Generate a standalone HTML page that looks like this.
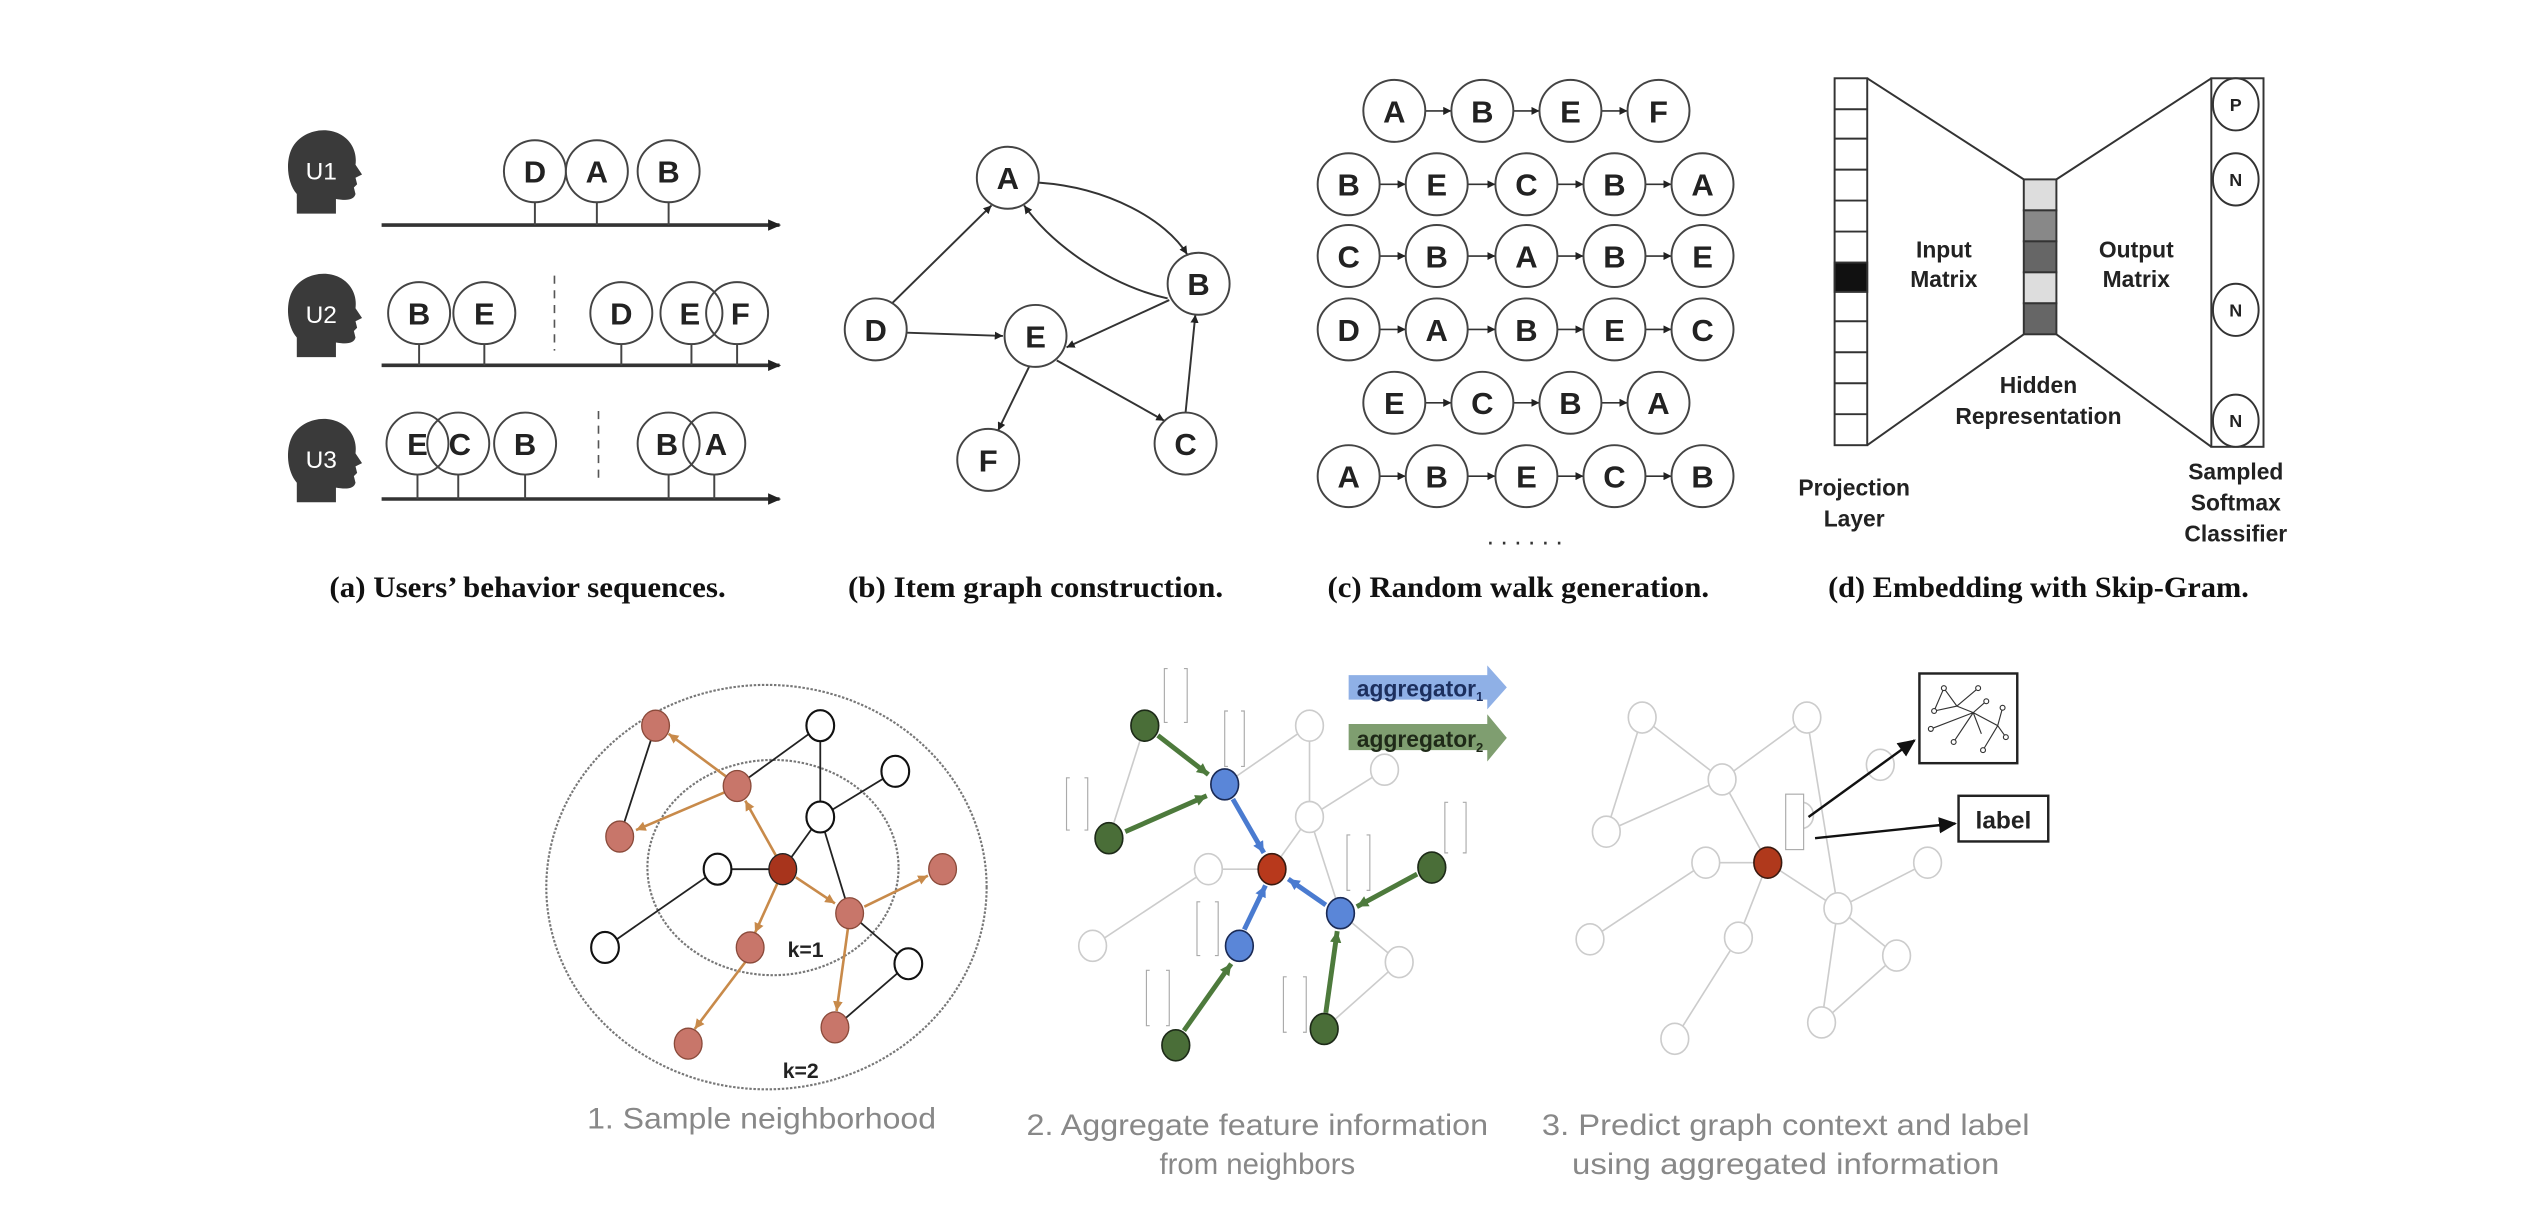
<!DOCTYPE html>
<html><head><meta charset="utf-8"><style>html,body{margin:0;padding:0;background:#fff}svg{display:block}</style></head>
<body>
<svg width="2544" height="1210" viewBox="0 0 1560 742" preserveAspectRatio="none" xmlns="http://www.w3.org/2000/svg" font-family="Liberation Sans, sans-serif">
<defs>
<marker id="ah" markerWidth="8" markerHeight="8" refX="7" refY="4" orient="auto" markerUnits="userSpaceOnUse"><path d="M0,0.5 L8,4 L0,7.5z" fill="#222"/></marker>
<marker id="ahs" markerWidth="5" markerHeight="5" refX="5" refY="2.5" orient="auto" markerUnits="userSpaceOnUse"><path d="M0,0 L5,2.5 L0,5z" fill="#222"/></marker>
<marker id="ao" markerWidth="6" markerHeight="6" refX="6" refY="3" orient="auto" markerUnits="userSpaceOnUse"><path d="M0,0 L6,3 L0,6z" fill="#c88a4a"/></marker>
<marker id="ab" markerWidth="7" markerHeight="7" refX="7" refY="3.5" orient="auto" markerUnits="userSpaceOnUse"><path d="M0,0 L7,3.5 L0,7z" fill="#4a7bd0"/></marker>
<marker id="ag" markerWidth="7" markerHeight="7" refX="7" refY="3.5" orient="auto" markerUnits="userSpaceOnUse"><path d="M0,0 L7,3.5 L0,7z" fill="#4d7a3c"/></marker>
<marker id="ak" markerWidth="11" markerHeight="10" refX="10" refY="5" orient="auto" markerUnits="userSpaceOnUse"><path d="M0,0 L11,5 L0,10z" fill="#111"/></marker>
<path id="head" d="M6,52 L6,40 C0,33 -1,20 3,12 C8,2 22,-2 32,3 C40,7 43,15 42,22 L46,28 L42,30 L43,34 L41,36 L42,40 C41,44 36,44 30,43 L30,52 Z"/>
</defs>

<!-- Panel a -->
<g fill="#3a3a3a">
<use href="#head" x="176" y="79"/>
<use href="#head" x="176" y="167"/>
<use href="#head" x="176" y="256"/>
</g>
<g fill="#fff" font-size="15" text-anchor="middle">
<text x="197" y="110">U1</text><text x="197" y="198">U2</text><text x="197" y="287">U3</text>
</g>
<g stroke="#333" stroke-width="2.2" marker-end="url(#ah)">
<line x1="234" y1="138" x2="478" y2="138"/>
<line x1="234" y1="224" x2="478" y2="224"/>
<line x1="234" y1="306" x2="478" y2="306"/>
</g>
<g stroke="#555" stroke-width="1" stroke-dasharray="5,4">
<line x1="340" y1="169" x2="340" y2="215"/>
<line x1="367" y1="252" x2="367" y2="296"/>
</g>
<g stroke="#444" stroke-width="1.2" fill="#fff">
<line x1="328" y1="124" x2="328" y2="138"/><line x1="366" y1="124" x2="366" y2="138"/><line x1="410" y1="124" x2="410" y2="138"/>
<circle cx="328" cy="105" r="19"/><circle cx="366" cy="105" r="19"/><circle cx="410" cy="105" r="19"/>
<line x1="257" y1="211" x2="257" y2="224"/><line x1="297" y1="211" x2="297" y2="224"/><line x1="381" y1="211" x2="381" y2="224"/><line x1="424" y1="211" x2="424" y2="224"/><line x1="452" y1="211" x2="452" y2="224"/>
<circle cx="257" cy="192" r="19"/><circle cx="297" cy="192" r="19"/><circle cx="381" cy="192" r="19"/><circle cx="424" cy="192" r="19"/><circle cx="452" cy="192" r="19" fill="none"/>
<line x1="256" y1="291" x2="256" y2="306"/><line x1="281" y1="291" x2="281" y2="306"/><line x1="322" y1="291" x2="322" y2="306"/><line x1="410" y1="291" x2="410" y2="306"/><line x1="438" y1="291" x2="438" y2="306"/>
<circle cx="256" cy="272" r="19"/><circle cx="281" cy="272" r="19" fill="none"/><circle cx="322" cy="272" r="19"/><circle cx="410" cy="272" r="19"/><circle cx="438" cy="272" r="19" fill="none"/>
</g>
<g font-size="19" font-weight="bold" fill="#222" text-anchor="middle">
<text x="328" y="112">D</text><text x="366" y="112">A</text><text x="410" y="112">B</text>
<text x="257" y="199">B</text><text x="297" y="199">E</text><text x="381" y="199">D</text><text x="423" y="199">E</text><text x="454" y="199">F</text>
<text x="256" y="279">E</text><text x="282" y="279">C</text><text x="322" y="279">B</text><text x="409" y="279">B</text><text x="439" y="279">A</text>
</g>

<!-- Panel b -->
<g stroke="#333" stroke-width="1.2" fill="none" marker-end="url(#ahs)">
<line x1="547" y1="186" x2="608" y2="126"/>
<line x1="556" y1="204" x2="615" y2="206"/>
<path d="M637,112 C680,115 715,135 728,156"/>
<path d="M716,183 C680,175 645,150 628,126"/>
<line x1="717" y1="184" x2="654" y2="213"/>
<line x1="631" y1="225" x2="612" y2="264"/>
<line x1="648" y1="221" x2="714" y2="258"/>
<line x1="727" y1="253" x2="733" y2="193"/>
</g>
<g stroke="#444" stroke-width="1.2" fill="#fff">
<circle cx="618" cy="109" r="19"/><circle cx="735" cy="174" r="19"/><circle cx="537" cy="202" r="19"/><circle cx="635" cy="206" r="19"/><circle cx="606" cy="282" r="19"/><circle cx="727" cy="272" r="19"/>
</g>
<g font-size="19" font-weight="bold" fill="#222" text-anchor="middle">
<text x="618" y="116">A</text><text x="735" y="181">B</text><text x="537" y="209">D</text><text x="635" y="213">E</text><text x="606" y="289">F</text><text x="727" y="279">C</text>
</g>

<!-- Panel c -->
<g stroke="#333" stroke-width="1" marker-end="url(#ahs)">
<line x1="874" y1="68" x2="890" y2="68"/><line x1="928" y1="68" x2="944" y2="68"/><line x1="982" y1="68" x2="998" y2="68"/>
<line x1="874" y1="247" x2="890" y2="247"/><line x1="928" y1="247" x2="944" y2="247"/><line x1="982" y1="247" x2="998" y2="247"/>
<line x1="846" y1="113" x2="862" y2="113"/><line x1="900" y1="113" x2="917" y2="113"/><line x1="955" y1="113" x2="971" y2="113"/><line x1="1009" y1="113" x2="1025" y2="113"/>
<line x1="846" y1="157" x2="862" y2="157"/><line x1="900" y1="157" x2="917" y2="157"/><line x1="955" y1="157" x2="971" y2="157"/><line x1="1009" y1="157" x2="1025" y2="157"/>
<line x1="846" y1="202" x2="862" y2="202"/><line x1="900" y1="202" x2="917" y2="202"/><line x1="955" y1="202" x2="971" y2="202"/><line x1="1009" y1="202" x2="1025" y2="202"/>
<line x1="846" y1="292" x2="862" y2="292"/><line x1="900" y1="292" x2="917" y2="292"/><line x1="955" y1="292" x2="971" y2="292"/><line x1="1009" y1="292" x2="1025" y2="292"/>
</g>
<g stroke="#444" stroke-width="1.2" fill="#fff">
<circle cx="855" cy="68" r="19"/><circle cx="909" cy="68" r="19"/><circle cx="963" cy="68" r="19"/><circle cx="1017" cy="68" r="19"/>
<circle cx="827" cy="113" r="19"/><circle cx="881" cy="113" r="19"/><circle cx="936" cy="113" r="19"/><circle cx="990" cy="113" r="19"/><circle cx="1044" cy="113" r="19"/>
<circle cx="827" cy="157" r="19"/><circle cx="881" cy="157" r="19"/><circle cx="936" cy="157" r="19"/><circle cx="990" cy="157" r="19"/><circle cx="1044" cy="157" r="19"/>
<circle cx="827" cy="202" r="19"/><circle cx="881" cy="202" r="19"/><circle cx="936" cy="202" r="19"/><circle cx="990" cy="202" r="19"/><circle cx="1044" cy="202" r="19"/>
<circle cx="855" cy="247" r="19"/><circle cx="909" cy="247" r="19"/><circle cx="963" cy="247" r="19"/><circle cx="1017" cy="247" r="19"/>
<circle cx="827" cy="292" r="19"/><circle cx="881" cy="292" r="19"/><circle cx="936" cy="292" r="19"/><circle cx="990" cy="292" r="19"/><circle cx="1044" cy="292" r="19"/>
</g>
<g font-size="19" font-weight="bold" fill="#222" text-anchor="middle">
<text x="855" y="75">A</text><text x="909" y="75">B</text><text x="963" y="75">E</text><text x="1017" y="75">F</text>
<text x="827" y="120">B</text><text x="881" y="120">E</text><text x="936" y="120">C</text><text x="990" y="120">B</text><text x="1044" y="120">A</text>
<text x="827" y="164">C</text><text x="881" y="164">B</text><text x="936" y="164">A</text><text x="990" y="164">B</text><text x="1044" y="164">E</text>
<text x="827" y="209">D</text><text x="881" y="209">A</text><text x="936" y="209">B</text><text x="990" y="209">E</text><text x="1044" y="209">C</text>
<text x="855" y="254">E</text><text x="909" y="254">C</text><text x="963" y="254">B</text><text x="1017" y="254">A</text>
<text x="827" y="299">A</text><text x="881" y="299">B</text><text x="936" y="299">E</text><text x="990" y="299">C</text><text x="1044" y="299">B</text>
</g>
<text x="937" y="334" font-size="16" fill="#333" text-anchor="middle" letter-spacing="4">......</text>

<!-- Panel d -->
<g stroke="#333" stroke-width="1.2" fill="#fff">
<rect x="1125" y="48" width="20" height="225"/>
<rect x="1125" y="161" width="20" height="18" fill="#111"/>
<line x1="1125" y1="67" x2="1145" y2="67"/><line x1="1125" y1="85" x2="1145" y2="85"/><line x1="1125" y1="104" x2="1145" y2="104"/><line x1="1125" y1="123" x2="1145" y2="123"/><line x1="1125" y1="142" x2="1145" y2="142"/><line x1="1125" y1="197" x2="1145" y2="197"/><line x1="1125" y1="216" x2="1145" y2="216"/><line x1="1125" y1="235" x2="1145" y2="235"/><line x1="1125" y1="254" x2="1145" y2="254"/>
<rect x="1241" y="110" width="20" height="19" fill="#ddd"/>
<rect x="1241" y="129" width="20" height="19" fill="#888"/>
<rect x="1241" y="148" width="20" height="19" fill="#666"/>
<rect x="1241" y="167" width="20" height="19" fill="#ddd"/>
<rect x="1241" y="186" width="20" height="19" fill="#666"/>
<rect x="1356" y="48" width="32" height="226"/>
<line x1="1145" y1="48" x2="1241" y2="110"/><line x1="1145" y1="273" x2="1241" y2="205"/>
<line x1="1261" y1="110" x2="1356" y2="48"/><line x1="1261" y1="205" x2="1356" y2="274"/>
<ellipse cx="1371" cy="64" rx="14" ry="16"/><ellipse cx="1371" cy="110" rx="14" ry="16"/><ellipse cx="1371" cy="190" rx="14" ry="16"/><ellipse cx="1371" cy="258" rx="14" ry="16"/>
</g>
<g font-size="11" font-weight="bold" fill="#222" text-anchor="middle">
<text x="1371" y="68">P</text><text x="1371" y="114">N</text><text x="1371" y="194">N</text><text x="1371" y="262">N</text>
</g>
<g font-size="14" font-weight="bold" fill="#222" text-anchor="middle">
<text x="1192" y="158">Input</text><text x="1192" y="176">Matrix</text>
<text x="1310" y="158">Output</text><text x="1310" y="176">Matrix</text>
<text x="1250" y="241">Hidden</text><text x="1250" y="260">Representation</text>
<text x="1137" y="304">Projection</text><text x="1137" y="323">Layer</text>
<text x="1371" y="294">Sampled</text><text x="1371" y="313">Softmax</text><text x="1371" y="332">Classifier</text>
</g>

<!-- captions -->
<g font-family="Liberation Serif, serif" font-weight="bold" font-size="18" fill="#111">
<text x="202" y="366" textLength="243" lengthAdjust="spacingAndGlyphs">(a) Users’ behavior sequences.</text>
<text x="520" y="366" textLength="230" lengthAdjust="spacingAndGlyphs">(b) Item graph construction.</text>
<text x="814" y="366" textLength="234" lengthAdjust="spacingAndGlyphs">(c) Random walk generation.</text>
<text x="1121" y="366" textLength="258" lengthAdjust="spacingAndGlyphs">(d) Embedding with Skip-Gram.</text>
</g>

<!-- Bottom panel 1 -->
<ellipse cx="470" cy="544" rx="135" ry="124" fill="none" stroke="#777" stroke-width="1.3" stroke-dasharray="1.5,1"/>
<ellipse cx="474" cy="532" rx="77" ry="66" fill="none" stroke="#777" stroke-width="1.3" stroke-dasharray="1.5,1"/>
<g stroke="#222" stroke-width="1.1">
<line x1="402" y1="445" x2="380" y2="513"/><line x1="452" y1="482" x2="503" y2="445"/><line x1="503" y1="445" x2="503" y2="501"/>
<line x1="503" y1="501" x2="549" y2="473"/><line x1="503" y1="501" x2="480" y2="533"/><line x1="503" y1="501" x2="521" y2="560"/>
<line x1="440" y1="533" x2="480" y2="533"/><line x1="440" y1="533" x2="371" y2="581"/><line x1="521" y1="560" x2="557" y2="591"/><line x1="557" y1="591" x2="512" y2="630"/>
</g>
<g stroke="#c88a4a" stroke-width="1.6" marker-end="url(#ao)">
<line x1="476" y1="525" x2="457" y2="491"/><line x1="445" y1="476" x2="410" y2="450"/><line x1="444" y1="486" x2="390" y2="509"/>
<line x1="488" y1="538" x2="512" y2="554"/><line x1="530" y1="556" x2="569" y2="537"/><line x1="520" y1="569" x2="513" y2="620"/>
<line x1="477" y1="541" x2="463" y2="572"/><line x1="457" y1="590" x2="426" y2="631"/>
</g>
<g stroke="#8a4a3a" stroke-width="0.8" fill="#c8766a">
<ellipse cx="402" cy="445" rx="8.5" ry="9.5"/><ellipse cx="452" cy="482" rx="8.5" ry="9.5"/><ellipse cx="380" cy="513" rx="8.5" ry="9.5"/>
<ellipse cx="578" cy="533" rx="8.5" ry="9.5"/><ellipse cx="521" cy="560" rx="8.5" ry="9.5"/><ellipse cx="460" cy="581" rx="8.5" ry="9.5"/>
<ellipse cx="512" cy="630" rx="8.5" ry="9.5"/><ellipse cx="422" cy="640" rx="8.5" ry="9.5"/>
<ellipse cx="480" cy="533" rx="8.5" ry="9.5" fill="#a8341c" stroke="#222"/>
</g>
<g stroke="#111" stroke-width="1.3" fill="#fff">
<ellipse cx="440" cy="533" rx="8.5" ry="9.5"/><ellipse cx="503" cy="445" rx="8.5" ry="9.5"/><ellipse cx="549" cy="473" rx="8.5" ry="9.5"/>
<ellipse cx="503" cy="501" rx="8.5" ry="9.5"/><ellipse cx="371" cy="581" rx="8.5" ry="9.5"/><ellipse cx="557" cy="591" rx="8.5" ry="9.5"/>
</g>
<g font-size="13" font-weight="bold" fill="#222"><text x="483" y="587">k=1</text><text x="480" y="661">k=2</text></g>

<!-- Bottom panel 2 -->
<g stroke="#ccc" stroke-width="1">
<line x1="702" y1="445" x2="680" y2="514"/><line x1="751" y1="481" x2="803" y2="445"/><line x1="803" y1="445" x2="803" y2="501"/>
<line x1="803" y1="501" x2="849" y2="472"/><line x1="803" y1="501" x2="780" y2="533"/><line x1="803" y1="501" x2="822" y2="560"/>
<line x1="741" y1="533" x2="780" y2="533"/><line x1="741" y1="533" x2="670" y2="580"/><line x1="822" y1="560" x2="858" y2="590"/><line x1="858" y1="590" x2="812" y2="631"/>
</g>
<g stroke="#4d7a3c" stroke-width="3" marker-end="url(#ag)">
<line x1="710" y1="451" x2="741" y2="475"/><line x1="690" y1="510" x2="740" y2="488"/><line x1="869" y1="536" x2="832" y2="556"/>
<line x1="726" y1="632" x2="755" y2="591"/><line x1="813" y1="621" x2="820" y2="571"/>
</g>
<g stroke="#4a7bd0" stroke-width="3" marker-end="url(#ab)">
<line x1="756" y1="490" x2="775" y2="523"/><line x1="763" y1="570" x2="776" y2="543"/><line x1="813" y1="555" x2="790" y2="539"/>
</g>
<g stroke="#ccc" stroke-width="1" fill="#fff">
<ellipse cx="803" cy="445" rx="8.5" ry="9.5"/><ellipse cx="849" cy="472" rx="8.5" ry="9.5"/><ellipse cx="803" cy="501" rx="8.5" ry="9.5"/>
<ellipse cx="741" cy="533" rx="8.5" ry="9.5"/><ellipse cx="670" cy="580" rx="8.5" ry="9.5"/><ellipse cx="858" cy="590" rx="8.5" ry="9.5"/>
</g>
<g stroke="#1d2a18" stroke-width="1" fill="#4a6e38">
<ellipse cx="702" cy="445" rx="8.5" ry="9.5"/><ellipse cx="680" cy="514" rx="8.5" ry="9.5"/><ellipse cx="878" cy="532" rx="8.5" ry="9.5"/>
<ellipse cx="721" cy="641" rx="8.5" ry="9.5"/><ellipse cx="812" cy="631" rx="8.5" ry="9.5"/>
</g>
<g stroke="#1a2a55" stroke-width="1" fill="#5a86d8">
<ellipse cx="751" cy="481" rx="8.5" ry="9.5"/><ellipse cx="760" cy="580" rx="8.5" ry="9.5"/><ellipse cx="822" cy="560" rx="8.5" ry="9.5"/>
</g>
<ellipse cx="780" cy="533" rx="8.5" ry="9.5" fill="#b8391c" stroke="#3a1a10" stroke-width="1"/>
<g fill="none" stroke="#aaa" stroke-width="0.7">
<path d="M716,410 h-2 v33 h2 M726,410 h2 v33 h-2"/>
<path d="M753,436 h-2 v34 h2 M761,436 h2 v34 h-2"/>
<path d="M656,477 h-2 v32 h2 M665,477 h2 v32 h-2"/>
<path d="M828,512 h-2 v34 h2 M838,512 h2 v34 h-2"/>
<path d="M888,492 h-2 v31 h2 M897,492 h2 v31 h-2"/>
<path d="M736,553 h-2 v33 h2 M745,553 h2 v33 h-2"/>
<path d="M705,595 h-2 v34 h2 M715,595 h2 v34 h-2"/>
<path d="M789,599 h-2 v34 h2 M799,599 h2 v34 h-2"/>
</g>
<path d="M827,414 H912 V408 L924,421.5 L912,435 V429 H827 Z" fill="#8fb0e6"/>
<path d="M827,444 H912 V438 L924,452.5 L912,467 V460 H827 Z" fill="#7f9e70"/>
<text x="832" y="427" font-size="14" font-weight="bold" fill="#1c2f5e">aggregator<tspan font-size="8" dy="3">1</tspan></text>
<text x="832" y="458" font-size="14" font-weight="bold" fill="#1f2a18">aggregator<tspan font-size="8" dy="3">2</tspan></text>

<!-- Bottom panel 3 -->
<g stroke="#ccc" stroke-width="1">
<line x1="1007" y1="440" x2="1056" y2="478"/><line x1="1007" y1="440" x2="985" y2="510"/><line x1="1108" y1="440" x2="1056" y2="478"/>
<line x1="985" y1="510" x2="1056" y2="478"/><line x1="1056" y1="478" x2="1084" y2="529"/><line x1="1108" y1="440" x2="1127" y2="557"/>
<line x1="1046" y1="529" x2="1084" y2="529"/><line x1="1046" y1="529" x2="975" y2="576"/><line x1="1084" y1="529" x2="1127" y2="557"/>
<line x1="1084" y1="529" x2="1066" y2="575"/><line x1="1066" y1="575" x2="1027" y2="637"/><line x1="1127" y1="557" x2="1182" y2="529"/>
<line x1="1127" y1="557" x2="1163" y2="586"/><line x1="1127" y1="557" x2="1117" y2="627"/><line x1="1163" y1="586" x2="1117" y2="627"/>
</g>
<g stroke="#ccc" stroke-width="1" fill="#fff">
<ellipse cx="1007" cy="440" rx="8.5" ry="9.5"/><ellipse cx="1108" cy="440" rx="8.5" ry="9.5"/><ellipse cx="1056" cy="478" rx="8.5" ry="9.5"/>
<ellipse cx="985" cy="510" rx="8.5" ry="9.5"/><ellipse cx="1046" cy="529" rx="8.5" ry="9.5"/><ellipse cx="1182" cy="529" rx="8.5" ry="9.5"/>
<ellipse cx="1127" cy="557" rx="8.5" ry="9.5"/><ellipse cx="975" cy="576" rx="8.5" ry="9.5"/><ellipse cx="1066" cy="575" rx="8.5" ry="9.5"/>
<ellipse cx="1163" cy="586" rx="8.5" ry="9.5"/><ellipse cx="1117" cy="627" rx="8.5" ry="9.5"/><ellipse cx="1027" cy="637" rx="8.5" ry="9.5"/>
<ellipse cx="1153" cy="469" rx="8.5" ry="9.5"/><ellipse cx="1105" cy="500" rx="7" ry="8"/>
</g>
<ellipse cx="1084" cy="529" rx="8.5" ry="9.5" fill="#b0391c" stroke="#3a1a10" stroke-width="1"/>
<rect x="1095" y="487" width="11" height="34" fill="#fff" stroke="#aaa" stroke-width="0.7"/>
<g stroke="#111" stroke-width="1.5" marker-end="url(#ak)">
<line x1="1109" y1="501" x2="1174" y2="454"/>
<line x1="1113" y1="514" x2="1199" y2="505"/>
</g>
<rect x="1177" y="413" width="60" height="55" fill="#fff" stroke="#222" stroke-width="1.5"/>
<g stroke="#333" stroke-width="0.7" fill="#fff">
<path d="M1192,422 L1186,436 L1200,433 L1192,422 M1200,433 L1213,422 M1200,433 L1210,437 L1218,430 M1210,437 L1215,450 M1210,437 L1184,447 M1210,437 L1198,455 M1210,437 L1225,445 L1228,434 M1225,445 L1216,460 M1225,445 L1230,452"/>
<circle cx="1192" cy="422" r="1.5"/><circle cx="1186" cy="436" r="1.5"/><circle cx="1213" cy="422" r="1.5"/><circle cx="1218" cy="430" r="1.5"/>
<circle cx="1184" cy="447" r="1.5"/><circle cx="1198" cy="455" r="1.5"/><circle cx="1228" cy="434" r="1.5"/><circle cx="1216" cy="460" r="1.5"/><circle cx="1230" cy="452" r="1.5"/>
</g>
<rect x="1201" y="488" width="55" height="28" fill="#fff" stroke="#222" stroke-width="1.5"/>
<text x="1228.5" y="508" font-size="15" font-weight="bold" fill="#222" text-anchor="middle">label</text>

<!-- bottom captions -->
<g font-size="18" fill="#888" text-anchor="middle">
<text x="467" y="692" textLength="214" lengthAdjust="spacingAndGlyphs">1. Sample neighborhood</text>
<text x="771" y="696" textLength="283" lengthAdjust="spacingAndGlyphs">2. Aggregate feature information</text>
<text x="771" y="720">from neighbors</text>
<text x="1095" y="696" textLength="299" lengthAdjust="spacingAndGlyphs">3. Predict graph context and label</text>
<text x="1095" y="720" textLength="262" lengthAdjust="spacingAndGlyphs">using aggregated information</text>
</g>
</svg>
</body></html>
